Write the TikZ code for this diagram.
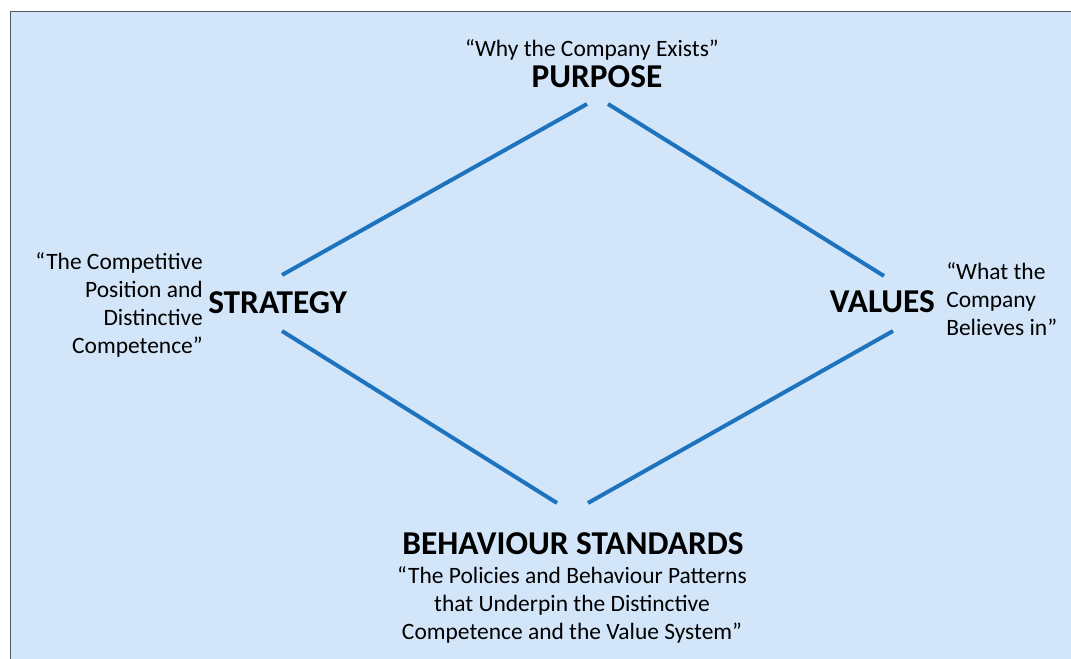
\documentclass[tikz,border=0pt]{standalone}
\usepackage{fontspec}
\setmainfont{Carlito}
\usetikzlibrary{positioning}
\definecolor{panelblue}{HTML}{D3E6F9}
\definecolor{edgeblue}{HTML}{1E73BE}
\definecolor{framegray}{HTML}{505A64}

\begin{document}
\begin{tikzpicture}[x=0.75pt,y=-0.75pt,
  title/.style={inner sep=0pt,font=\fontsize{25}{30}\selectfont\bfseries},
  quote/.style={inner sep=0pt,font=\fontsize{17.6}{21}\selectfont},
  edge/.style={edgeblue,line width=3pt}]
\useasboundingbox (0,0) rectangle (1071,659);
\fill[white] (0,0) rectangle (1071,659);
\fill[panelblue] (10.5,11.5) rectangle (1080,670);
\draw[framegray,line width=1.3pt] (10.5,670) -- (10.5,11.5) -- (1080,11.5);
\node[quote,anchor=base] (why) at (592,57) {“Why the Company Exists”};
\node[title,anchor=base] (purpose) at (597,88) {PURPOSE};
\node[title,anchor=base west] (strategy) at (208,314) {STRATEGY};
\node[quote,anchor=east,align=right] (stratquote) at (203,305) {“The Competitive\\Position and\\Distinctive\\Competence”};
\node[title,anchor=base east] (values) at (935,313) {VALUES};
\node[quote,anchor=west,align=left] (valquote) at (946,299) {“What the\\Company\\Believes in”};
\node[title,anchor=base] (behaviour) at (573,554) {BEHAVIOUR STANDARDS};
\node[quote,anchor=north,align=center] (behquote) at (572,566) {“The Policies and Behaviour Patterns\\that Underpin the Distinctive\\Competence and the Value System”};
\coordinate (pl) at (587,104);
\coordinate (pr) at (608,104);
\coordinate (st) at (282,275);
\coordinate (sb) at (282,331);
\coordinate (vt) at (884,276);
\coordinate (vb) at (893,331);
\coordinate (bl) at (557,503);
\coordinate (br) at (588,503);
\draw[edge] (st) -- (pl);
\draw[edge] (pr) -- (vt);
\draw[edge] (sb) -- (bl);
\draw[edge] (br) -- (vb);
\end{tikzpicture}
\end{document}
